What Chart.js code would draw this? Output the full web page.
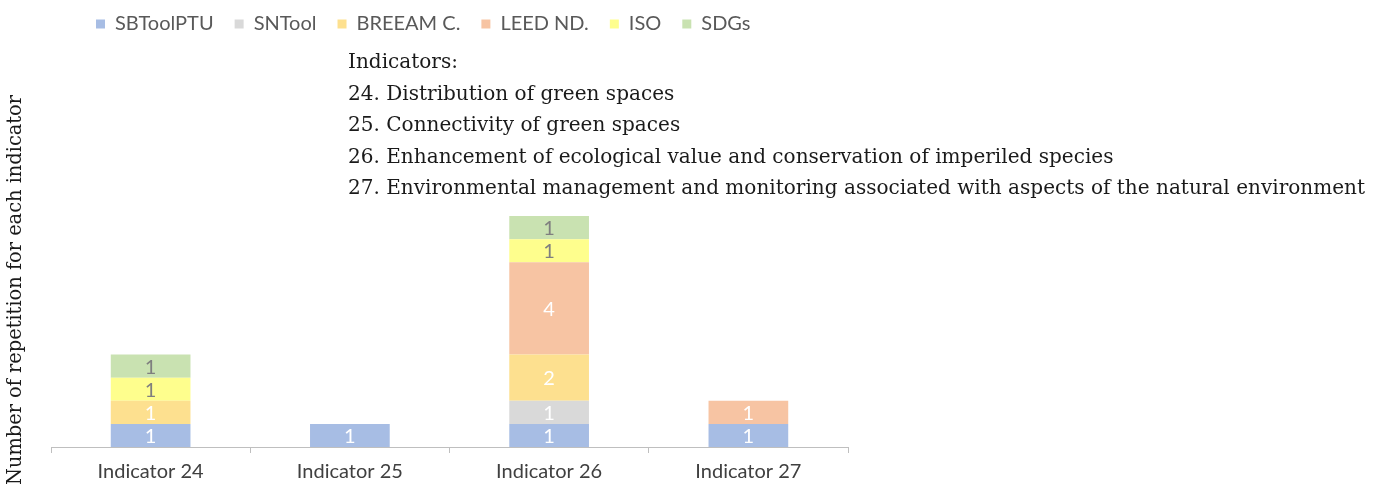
<!DOCTYPE html>
<html>
<head>
<meta charset="utf-8">
<script src="https://cdn.jsdelivr.net/npm/chart.js@4"></script>
<style>
  html, body { margin: 0; padding: 0; background: #fff; }
  #wrap { width: 1385px; height: 489px; position: relative; }
</style>
</head>
<body>
<div id="wrap"><canvas id="indicatorChart"></canvas></div>
<script>
// Indicator repetition chart

var categories = ['Indicator 24', 'Indicator 25', 'Indicator 26', 'Indicator 27'];

var sbtoolptu = [1, 1, 1, 1];
var sntool    = [null, null, 1, null];
var breeam    = [1, null, 2, null];
var leed      = [null, null, 4, 1];
var iso       = [1, null, 1, null];
var sdgs      = [1, null, 1, null];

var seriesNames = ['SBToolPTU', 'SNTool', 'BREEAM C.', 'LEED ND.', 'ISO', 'SDGs'];
var seriesColors = ['#a7bde4', '#d9d9d9', '#fde08f', '#f7c4a3', '#fefe8d', '#c9e2b1'];
var labelColors = ['#ffffff', '#ffffff', '#ffffff', '#ffffff', '#7f7f7f', '#7f7f7f'];

var yTitle = 'Number of repetition for each indicator';
var noteLines = [
    'Indicators:',
    '24. Distribution of green spaces',
    '25. Connectivity of green spaces',
    '26. Enhancement of ecological value and conservation of imperiled species',
    '27. Environmental management and monitoring associated with aspects of the natural environment'
];

(function() {
    'use strict';

    var seriesData = [sbtoolptu, sntool, breeam, leed, iso, sdgs];

    var datasets = [];
    for (var i = 0; i < seriesNames.length; i++) {
        datasets.push({
            label: seriesNames[i],
            data: seriesData[i],
            backgroundColor: seriesColors[i],
            borderWidth: 0,
            barPercentage: 0.4,
            categoryPercentage: 1.0,
            labelColor: labelColors[i]
        });
    }

    // values inside each bar segment
    var segmentLabels = {
        id: 'segmentLabels',
        afterDatasetsDraw: function(chart) {
            var ctx = chart.ctx;
            ctx.save();
            ctx.font = '20px Lato, "Open Sans", sans-serif';
            ctx.textAlign = 'center';
            ctx.textBaseline = 'middle';
            chart.data.datasets.forEach(function(ds, di) {
                var meta = chart.getDatasetMeta(di);
                meta.data.forEach(function(bar, idx) {
                    var v = ds.data[idx];
                    if (v === null || v === undefined) return;
                    ctx.fillStyle = ds.labelColor;
                    ctx.fillText(String(v), bar.x, (bar.y + bar.base) / 2 + 1);
                });
            });
            ctx.restore();
        }
    };

    // note block and rotated axis title
    var textBlock = {
        id: 'textBlock',
        afterLayout: function(chart) {
            if (chart.legend) {
                chart.legend.left += 24;
            }
        },
        afterDraw: function(chart) {
            var ctx = chart.ctx;
            ctx.save();
            ctx.fillStyle = '#1a1a1a';
            ctx.font = '20px "DejaVu Serif", serif';
            ctx.textBaseline = 'middle';
            var widest = 0;
            for (var i = 0; i < noteLines.length; i++) {
                widest = Math.max(widest, ctx.measureText(noteLines[i]).width);
            }
            var sx = 1017 / widest;
            for (var j = 0; j < noteLines.length; j++) {
                ctx.save();
                ctx.translate(348, 63 + j * 31.5);
                ctx.scale(sx, 1);
                ctx.fillText(noteLines[j], 0, 0);
                ctx.restore();
            }

            var tw = ctx.measureText(yTitle).width;
            var tsx = 390 / tw;
            ctx.translate(16, 290);
            ctx.rotate(-Math.PI / 2);
            ctx.scale(tsx, 1);
            ctx.textAlign = 'center';
            ctx.fillText(yTitle, 0, 0);
            ctx.restore();
        }
    };

    function initChart() {
        var canvas = document.getElementById('indicatorChart');
        if (!canvas) {
            console.error('Canvas element not found');
            return;
        }
        var ctx = canvas.getContext('2d');

        new Chart(ctx, {
            type: 'bar',
            data: {
                labels: categories,
                datasets: datasets
            },
            options: {
                responsive: true,
                maintainAspectRatio: false,
                animation: false,
                layout: {
                    padding: { left: 51, right: 537, top: -7, bottom: -2 }
                },
                plugins: {
                    legend: {
                        position: 'top',
                        align: 'start',
                        labels: {
                            boxWidth: 9,
                            boxHeight: 9,
                            padding: 21,
                            color: '#595959',
                            font: { family: 'Lato, "Open Sans", sans-serif', size: 20 }
                        }
                    },
                    tooltip: { enabled: false }
                },
                scales: {
                    x: {
                        stacked: true,
                        grid: {
                            display: true,
                            offset: true,
                            drawOnChartArea: false,
                            tickLength: 6,
                            color: '#bfbfbf'
                        },
                        border: { display: true, color: '#bfbfbf', width: 1 },
                        ticks: {
                            padding: 7,
                            color: '#404040',
                            font: { family: 'Lato, "Open Sans", sans-serif', size: 20 }
                        }
                    },
                    y: {
                        stacked: true,
                        display: false,
                        min: 0,
                        max: 17.45
                    }
                }
            },
            plugins: [segmentLabels, textBlock]
        });
    }

    if (document.readyState === 'loading') {
        document.addEventListener('DOMContentLoaded', initChart);
    } else {
        initChart();
    }
})();
</script>
</body>
</html>
